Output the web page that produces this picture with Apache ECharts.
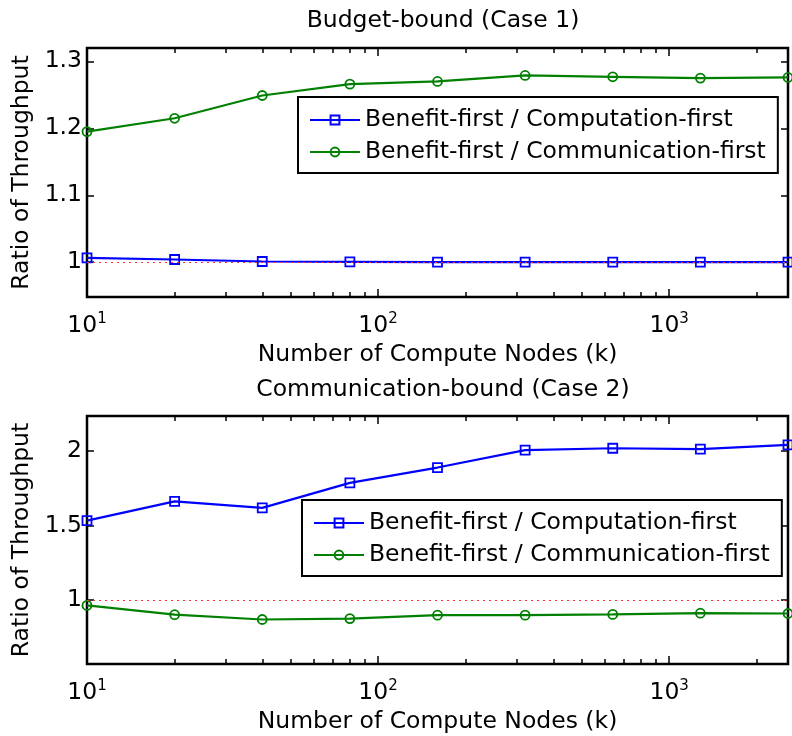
<!DOCTYPE html>
<html>
<head>
<meta charset="utf-8">
<script src="https://cdn.jsdelivr.net/npm/echarts@6/dist/echarts.min.js"></script>
<style>
  html, body { margin: 0; padding: 0; background: #fff; }
  #chart { width: 792px; height: 736px; }
</style>
</head>
<body>
<div id="chart"></div>
<script>
// Number of compute nodes (k), log-spaced
const nodes = [10, 20, 40, 80, 160, 320, 640, 1280, 2560];

// Case 1: budget-bound
const case1VsComputation = [1.0065, 1.004, 1.001, 1.0005, 1.0, 1.0, 1.0, 1.0, 1.0];
const case1VsCommunication = [1.195, 1.215, 1.249, 1.266, 1.27, 1.279, 1.277, 1.275, 1.276];

// Case 2: communication-bound
const case2VsComputation = [1.533, 1.662, 1.618, 1.785, 1.888, 2.005, 2.017, 2.011, 2.04];
const case2VsCommunication = [0.965, 0.903, 0.871, 0.877, 0.9, 0.9, 0.905, 0.913, 0.911];

// Axis ticks
const xMajorTicks = [10, 100, 1000];
const xMinorTicks = [20, 30, 40, 50, 60, 70, 80, 90, 200, 300, 400, 500, 600, 700, 800, 900, 2000];
const case1YTicks = [1, 1.1, 1.2, 1.3];
const case2YTicks = [1, 1.5, 2];
const parityLevel = 1;

const seriesNames = ['Benefit-first / Computation-first', 'Benefit-first / Communication-first'];
const titles = ['Budget-bound (Case 1)', 'Communication-bound (Case 2)'];
const xAxisTitle = 'Number of Compute Nodes (k)';
const yAxisTitle = 'Ratio of Throughput';

const FONT = 'DejaVu Sans';
const FS = 23.5;
const BLUE = '#0000ff';
const GREEN = '#008000';

const panels = [
  { top: 48, height: 249, yMin: 0.948, yMax: 1.32, yTicks: case1YTicks,
    comp: case1VsComputation, comm: case1VsCommunication, legendLeft: 298, legendTop: 97, titleTop: 4 },
  { top: 416, height: 248, yMin: 0.573, yMax: 2.233, yTicks: case2YTicks,
    comp: case2VsComputation, comm: case2VsCommunication, legendLeft: 302, legendTop: 500, titleTop: 373 }
];

function tickLine() { return { color: '#000', width: 1.5 }; }

// Four x axes per panel: labelled major ticks, minor ticks, and the same pair mirrored on top
function xAxesFor(g) {
  const mk = extra => Object.assign({ gridIndex: g, type: 'log', min: 10, max: 2560,
    axisLine: { show: false, onZero: false }, splitLine: { show: false } }, extra);
  return [
    mk({
      position: 'bottom',
      name: xAxisTitle, nameLocation: 'middle', nameGap: 46,
      nameTextStyle: { fontFamily: FONT, fontSize: FS, color: '#000' },
      axisTick: { show: true, inside: true, length: 8, customValues: xMajorTicks, lineStyle: tickLine() },
      axisLabel: {
        customValues: xMajorTicks, margin: 15, color: '#000',
        formatter: v => '{b|10}{s|' + Math.round(Math.log10(v)) + '}',
        rich: {
          b: { fontFamily: FONT, fontSize: FS, color: '#000' },
          s: { fontFamily: FONT, fontSize: 15, color: '#000', padding: [0, 0, 13, 0] }
        }
      }
    }),
    mk({
      position: 'bottom', axisLabel: { show: false },
      axisTick: { show: true, inside: true, length: 5, customValues: xMinorTicks, lineStyle: tickLine() }
    }),
    mk({
      position: 'top', axisLabel: { show: false },
      axisTick: { show: true, inside: true, length: 8, customValues: xMajorTicks, lineStyle: tickLine() }
    }),
    mk({
      position: 'top', axisLabel: { show: false },
      axisTick: { show: true, inside: true, length: 5, customValues: xMinorTicks, lineStyle: tickLine() }
    })
  ];
}

// Left (labelled) and right (ticks only) y axes per panel
function yAxesFor(g, p) {
  const mk = extra => Object.assign({ gridIndex: g, type: 'value', min: p.yMin, max: p.yMax,
    axisLine: { show: false, onZero: false }, splitLine: { show: false } }, extra);
  return [
    mk({
      position: 'left',
      name: yAxisTitle, nameLocation: 'middle', nameGap: 50, nameRotate: 90,
      nameTextStyle: { fontFamily: FONT, fontSize: FS, color: '#000' },
      axisTick: { show: true, inside: true, length: 7, customValues: p.yTicks, lineStyle: tickLine() },
      axisLabel: { customValues: p.yTicks, margin: 5, fontFamily: FONT, fontSize: FS, color: '#000',
        formatter: v => String(Math.round(v * 10) / 10) }
    }),
    mk({
      position: 'right', axisLabel: { show: false },
      axisTick: { show: true, inside: true, length: 7, customValues: p.yTicks, lineStyle: tickLine() }
    })
  ];
}

const grid = [], xAxis = [], yAxis = [], series = [], legend = [], title = [];

panels.forEach((p, g) => {
  grid.push({ left: 87, right: 4, top: p.top, height: p.height, show: true,
    borderColor: '#000', borderWidth: 2.5 });
  xAxis.push(...xAxesFor(g));
  yAxis.push(...yAxesFor(g, p));
  title.push({ text: titles[g], left: 438, textAlign: 'center', top: p.titleTop,
    textStyle: { fontFamily: FONT, fontSize: FS, fontWeight: 'normal', color: '#000' } });

  const xi = g * 4, yi = g * 2;
  series.push({
    name: seriesNames[0], type: 'line', xAxisIndex: xi, yAxisIndex: yi,
    data: nodes.map((n, i) => [n, p.comp[i]]),
    symbol: 'rect', symbolSize: 9, z: 3,
    lineStyle: { color: BLUE, width: 2.2 },
    itemStyle: { color: 'rgba(0,0,0,0)', borderColor: BLUE, borderWidth: 1.8 },
    markLine: {
      silent: true, symbol: 'none', label: { show: false },
      lineStyle: { color: '#ff3030', width: 1, type: [2, 4] },
      data: [{ yAxis: parityLevel }]
    }
  });
  series.push({
    name: seriesNames[1], type: 'line', xAxisIndex: xi, yAxisIndex: yi,
    data: nodes.map((n, i) => [n, p.comm[i]]),
    symbol: 'circle', symbolSize: 9, z: 3,
    lineStyle: { color: GREEN, width: 2.2 },
    itemStyle: { color: 'rgba(0,0,0,0)', borderColor: GREEN, borderWidth: 1.8 }
  });

  legend.push({
    data: seriesNames, left: p.legendLeft, top: p.legendTop, orient: 'vertical',
    itemWidth: 50, itemHeight: 11, itemGap: 2, padding: [8, 12, 6, 11],
    borderColor: '#000', borderWidth: 2, backgroundColor: '#fff',
    selectedMode: false,
    textStyle: { fontFamily: FONT, fontSize: FS, color: '#000', lineHeight: 30 }
  });
});

const chart = echarts.init(document.getElementById('chart'), null, { renderer: 'canvas' });
chart.setOption({
  backgroundColor: '#fff',
  animation: false,
  title, grid, xAxis, yAxis, legend, series
});
</script>
</body>
</html>
